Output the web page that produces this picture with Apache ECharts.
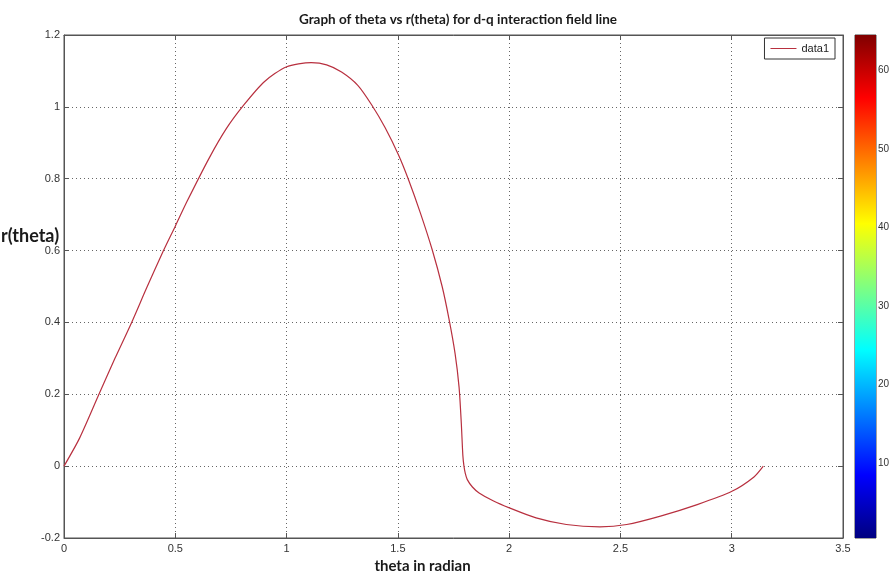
<!DOCTYPE html>
<html>
<head>
<meta charset="utf-8">
<script src="https://cdn.jsdelivr.net/npm/echarts@6/dist/echarts.min.js"></script>
<style>
html,body{margin:0;padding:0;background:#fff;}
#chart{width:890px;height:574px;}
</style>
</head>
<body>
<div id="chart"></div>
<script>
// theta (radian) values
var theta = [0, 0.07, 0.157, 0.229, 0.304, 0.372, 0.447, 0.5, 0.553, 0.651, 0.73, 0.809, 0.9, 0.998, 1.111, 1.18, 1.247, 1.32, 1.382, 1.443, 1.503, 1.548, 1.601, 1.654, 1.699, 1.729, 1.757, 1.775, 1.785, 1.792, 1.797, 1.803, 1.812, 1.835, 1.865, 1.93, 2.001, 2.121, 2.257, 2.408, 2.528, 2.68, 2.845, 3.001, 3.1, 3.142];
// r(theta) values
var rTheta = [0, 0.078, 0.2, 0.3, 0.4, 0.497, 0.6, 0.668, 0.737, 0.856, 0.94, 1.006, 1.07, 1.111, 1.123, 1.117, 1.097, 1.06, 1.006, 0.942, 0.866, 0.797, 0.705, 0.603, 0.5, 0.412, 0.314, 0.22, 0.12, 0.03, 0, -0.02, -0.0375, -0.058, -0.0745, -0.097, -0.116, -0.144, -0.1625, -0.169, -0.1625, -0.139, -0.107, -0.07, -0.03, 0];
var seriesName = 'data1';
var xTicks = [0, 0.5, 1, 1.5, 2, 2.5, 3, 3.5];
var yTicks = [-0.2, 0, 0.2, 0.4, 0.6, 0.8, 1, 1.2];
var colorbarTicks = [10, 20, 30, 40, 50, 60];
var colorbarRange = [0.5, 64.5];

var points = theta.map(function (t, i) { return [t, rTheta[i]]; });
var labelFont = "'Liberation Sans Narrow', 'Liberation Sans', Arial, sans-serif";
var boldFont = "Lato, 'Open Sans', sans-serif";
var axisColor = '#555';

var chart = echarts.init(document.getElementById('chart'));
var option = {
  backgroundColor: '#ffffff',
  animation: false,
  title: [
    {
      text: 'Graph of theta vs r(theta) for d-q interaction field line',
      left: 453,
      top: 8,
      textAlign: 'center',
      textStyle: { fontFamily: boldFont, fontWeight: 'bold', fontSize: 13.5, color: '#1a1a1a' }
    },
    {
      text: 'r(theta)',
      left: 1,
      top: 227,
      padding: 0,
      textStyle: { fontFamily: boldFont, fontWeight: 'bold', fontSize: 18, color: '#1a1a1a' }
    }
  ],
  legend: {
    data: [seriesName],
    right: 55,
    top: 38,
    orient: 'vertical',
    borderColor: '#333',
    borderWidth: 1,
    padding: [5, 6, 5, 6],
    itemWidth: 26,
    itemHeight: 1,
    itemGap: 4,
    icon: 'rect',
    textStyle: { fontFamily: labelFont, fontSize: 11, color: '#222' }
  },
  grid: [
    { left: 64, right: 47, top: 35, bottom: 36, show: true, borderColor: axisColor, borderWidth: 1, containLabel: false, outerBoundsMode: 'none' },
    { left: 855, width: 21, top: 35, bottom: 36, show: true, borderColor: '#444', borderWidth: 1, containLabel: false, outerBoundsMode: 'none' }
  ],
  xAxis: [
    {
      type: 'value', gridIndex: 0, min: 0, max: 3.5, interval: 0.5,
      name: 'theta in radian', nameLocation: 'middle', nameGap: 19,
      nameTextStyle: { fontFamily: boldFont, fontWeight: 'bold', fontSize: 15, color: '#1a1a1a', padding: [0, 62, 0, 0] },
      axisLine: { show: true, onZero: false, lineStyle: { color: axisColor } },
      axisTick: { show: true, inside: true, length: 5, lineStyle: { color: axisColor } },
      axisLabel: { fontFamily: labelFont, fontSize: 11, color: '#333', margin: 5 },
      splitLine: { show: true, lineStyle: { type: [1, 3], color: '#666', width: 1 } }
    },
    {
      type: 'value', gridIndex: 0, min: 0, max: 3.5, interval: 0.5, position: 'top',
      axisLine: { show: true, onZero: false, lineStyle: { color: axisColor } },
      axisTick: { show: true, inside: true, length: 5, lineStyle: { color: axisColor } },
      axisLabel: { show: false }, splitLine: { show: false }
    },
    {
      type: 'category', gridIndex: 1, data: ['c'], show: false
    }
  ],
  yAxis: [
    {
      type: 'value', gridIndex: 0, min: -0.2, max: 1.2, interval: 0.2,
      axisLine: { show: true, onZero: false, lineStyle: { color: axisColor } },
      axisTick: { show: true, inside: true, length: 5, lineStyle: { color: axisColor } },
      axisLabel: { fontFamily: labelFont, fontSize: 11, color: '#333', margin: 4,
        formatter: function (v) { return String(Math.round(v * 10) / 10); } },
      splitLine: { show: true, lineStyle: { type: [1, 3], color: '#666', width: 1 } }
    },
    {
      type: 'value', gridIndex: 0, min: -0.2, max: 1.2, interval: 0.2, position: 'right',
      axisLine: { show: true, onZero: false, lineStyle: { color: axisColor } },
      axisTick: { show: true, inside: true, length: 5, lineStyle: { color: axisColor } },
      axisLabel: { show: false }, splitLine: { show: false }
    },
    {
      type: 'value', gridIndex: 1, min: colorbarRange[0], max: colorbarRange[1], position: 'right',
      axisLine: { show: false },
      axisTick: { show: true, inside: true, length: 3, customValues: colorbarTicks, lineStyle: { color: '#222' } },
      axisLabel: { show: true, customValues: colorbarTicks, fontFamily: labelFont, fontSize: 10, color: '#333', margin: 2 },
      splitLine: { show: false }
    },
    {
      type: 'value', gridIndex: 1, min: colorbarRange[0], max: colorbarRange[1], position: 'left',
      axisLine: { show: false },
      axisTick: { show: true, inside: true, length: 3, customValues: colorbarTicks, lineStyle: { color: '#222' } },
      axisLabel: { show: false },
      splitLine: { show: false }
    }
  ],
  series: [
    {
      name: seriesName,
      type: 'line',
      xAxisIndex: 0, yAxisIndex: 0,
      data: points,
      showSymbol: false,
      smooth: 0.25,
      lineStyle: { color: '#b8303f', width: 1.2 },
      itemStyle: { color: '#b8303f' },
      z: 5
    },
    {
      name: 'cbBase', type: 'bar', xAxisIndex: 2, yAxisIndex: 2, stack: 'cb',
      data: [colorbarRange[0]], barWidth: '100%', itemStyle: { color: 'rgba(0,0,0,0)' },
      silent: true
    },
    {
      name: 'cbFill', type: 'bar', xAxisIndex: 2, yAxisIndex: 2, stack: 'cb',
      data: [colorbarRange[1] - colorbarRange[0]], barWidth: '100%', silent: true,
      itemStyle: {
        color: new echarts.graphic.LinearGradient(0, 0, 0, 1, [
          { offset: 0, color: '#800000' },
          { offset: 0.125, color: '#ff0000' },
          { offset: 0.375, color: '#ffff00' },
          { offset: 0.5, color: '#80ff80' },
          { offset: 0.625, color: '#00ffff' },
          { offset: 0.875, color: '#0000ff' },
          { offset: 1, color: '#000080' }
        ])
      }
    }
  ]
};
chart.setOption(option);
</script>
</body>
</html>
